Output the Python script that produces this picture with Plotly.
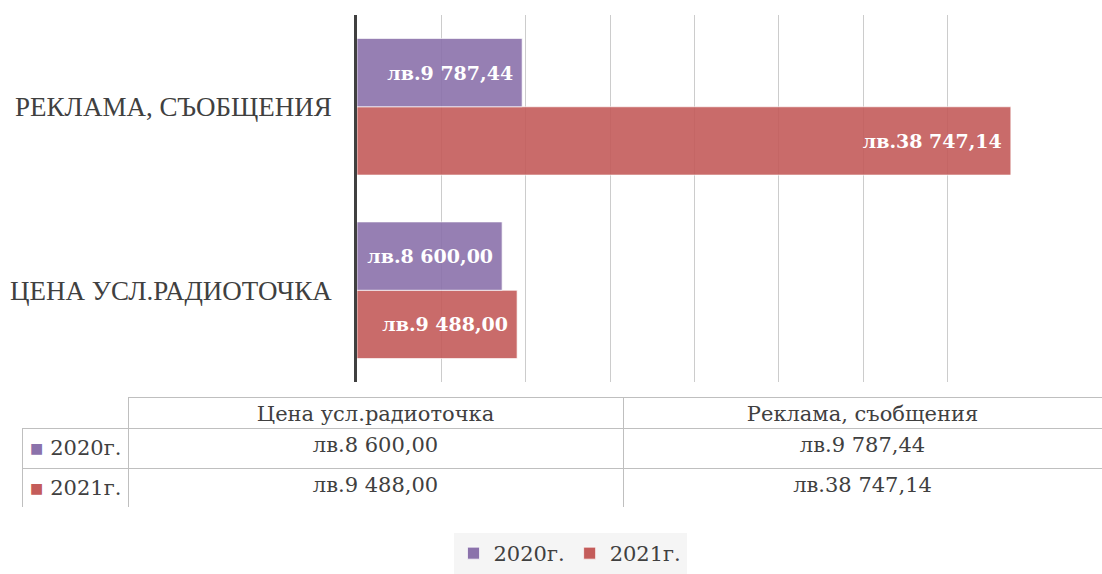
import plotly.graph_objects as go

# ---- data ----
categories = ["ЦЕНА УСЛ.РАДИОТОЧКА", "РЕКЛАМА, СЪОБЩЕНИЯ"]
table_headers = ["Цена усл.радиоточка", "Реклама, съобщения"]
series_names = ["2020г.", "2021г."]
values_2020 = [8600.00, 9787.44]
values_2021 = [9488.00, 38747.14]
colors = {"2020г.": "#8B72AB", "2021г.": "#C45C5A"}

W, H = 1102, 574


def fmt(v):
    s = f"{v:,.2f}".replace(",", " ").replace(".", ",")
    return "лв." + s


def px_x(p):
    return p / W


def px_y(p):
    return 1 - p / H


label_font = dict(family="DejaVu Serif", size=19, color="white")

fig = go.Figure()

series = [("2021г.", values_2021), ("2020г.", values_2020)]
for name, vals in series:
    fig.add_trace(go.Bar(
        name=name,
        y=categories,
        x=vals,
        orientation="h",
        marker=dict(color=colors[name], opacity=0.9,
                    line=dict(color="rgba(255,255,255,0.7)", width=1)),
        text=["<b>" + fmt(v) + "</b>\u00a0" for v in vals],
        textposition="inside",
        insidetextanchor="end",
        textfont=label_font,
        hoverinfo="skip",
    ))

# data table under the chart
sq = "<span style='color:{c};font-size:14px;baseline-shift:2px'>■\u2002</span>"
row_labels = [sq.format(c=colors[n]) + n + "<br>" for n in series_names]
col_cena = [fmt(values_2020[0]), fmt(values_2021[0])]
col_rekl = [fmt(values_2020[1]), fmt(values_2021[1])]

tfont = dict(family="DejaVu Serif", size=21, color="#404040")
fig.add_trace(go.Table(
    domain=dict(x=[px_x(22), 1.0], y=[px_y(508), px_y(397)]),
    columnwidth=[106, 495, 479],
    header=dict(
        values=[""] + table_headers,
        height=31,
        align="center",
        font=tfont,
        fill_color="white",
        line=dict(color=["rgba(0,0,0,0)", "#BFBFBF", "#BFBFBF"], width=1),
    ),
    cells=dict(
        values=[row_labels, col_cena, col_rekl],
        height=40,
        align=["left", "center", "center"],
        font=tfont,
        fill_color="white",
        line=dict(color="#BFBFBF", width=1),
    ),
))

fig.update_layout(
    width=W, height=H,
    margin=dict(l=0, r=0, t=0, b=0),
    paper_bgcolor="white",
    plot_bgcolor="white",
    barmode="group",
    bargap=0.255,
    bargroupgap=0.0,
    showlegend=True,
    legend=dict(
        orientation="h",
        traceorder="reversed",
        x=px_x(570), xanchor="center",
        y=0, yanchor="bottom",
        bgcolor="#F5F5F5",
        font=dict(family="DejaVu Serif", size=21, color="#404040"),
        itemwidth=30,
    ),
    xaxis=dict(
        domain=[px_x(357), px_x(1032)],
        range=[0, 40000],
        dtick=5000,
        showticklabels=False,
        showgrid=True,
        gridcolor="#CCCCCC",
        gridwidth=1,
        zeroline=False,
        showline=False,
        fixedrange=True,
    ),
    yaxis=dict(
        domain=[px_y(382), px_y(15)],
        range=[-0.5, 1.5],
        showline=True,
        linecolor="#404040",
        linewidth=2.5,
        ticks="",
        ticklabelstandoff=17,
        tickfont=dict(family="Liberation Serif", size=27, color="#404040"),
        automargin=False,
        showgrid=False,
        fixedrange=True,
    ),
)

fig.write_html(
    "out.html",
    config={"displayModeBar": False},
    post_script="document.body.style.margin='0';document.body.style.overflow='hidden';",
)
